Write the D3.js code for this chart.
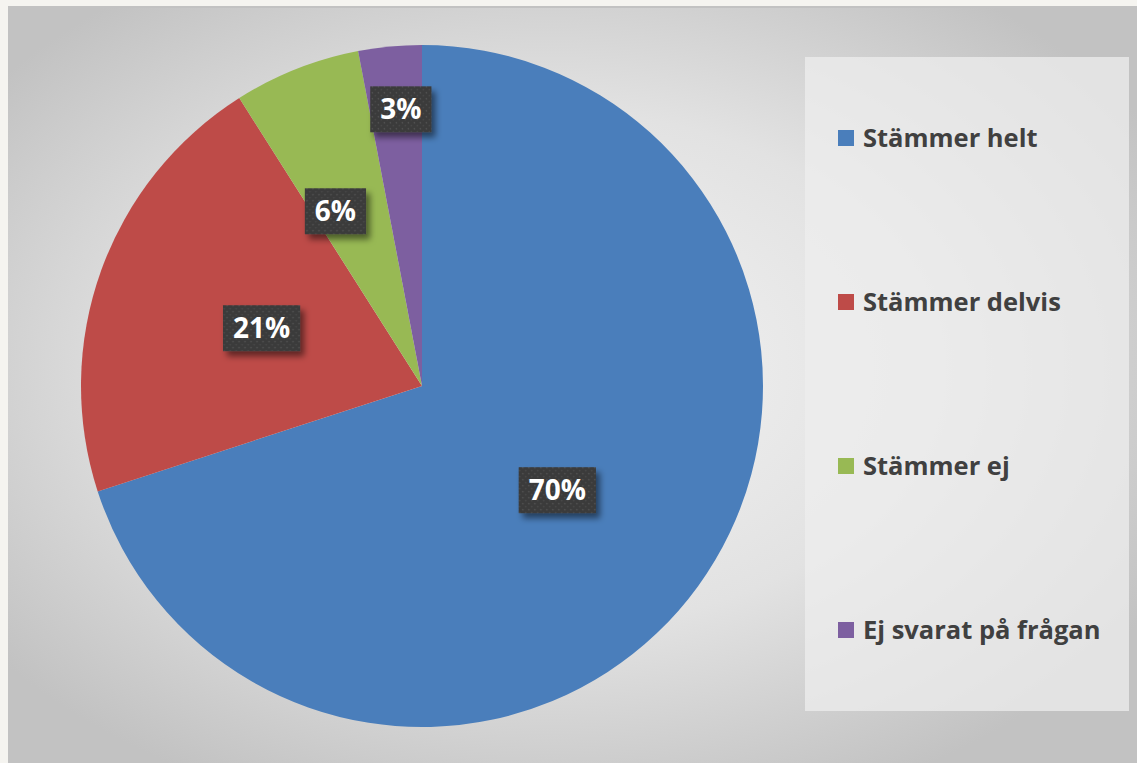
<!DOCTYPE html>
<html>
<head>
<meta charset="utf-8">
<script src="https://cdn.jsdelivr.net/npm/d3@7"></script>
<style>
  html, body { margin: 0; padding: 0; background: #f5f4f0; overflow: hidden; }
  svg { display: block; }
</style>
</head>
<body>
<svg id="chart"></svg>
<script>
const categories = ['Stämmer helt', 'Stämmer delvis', 'Stämmer ej', 'Ej svarat på frågan'];
const values = [70, 21, 6, 3];
const colors = ['#4a7ebb', '#be4b48', '#98b954', '#7d5fa0'];

const width = 1137, height = 763;
const svg = d3.select('#chart').attr('width', width).attr('height', height);
const defs = svg.append('defs');

// Background gradient
const bg = defs.append('radialGradient')
  .attr('id', 'bg').attr('cx', '48%').attr('cy', '48%').attr('r', '62%');
bg.append('stop').attr('offset', '0%').attr('stop-color', '#f4f4f4');
bg.append('stop').attr('offset', '55%').attr('stop-color', '#e2e2e2');
bg.append('stop').attr('offset', '100%').attr('stop-color', '#c2c2c2');

// Dotted pattern for the label boxes
const pat = defs.append('pattern')
  .attr('id', 'dots').attr('width', 6).attr('height', 6)
  .attr('patternUnits', 'userSpaceOnUse');
pat.append('rect').attr('width', 6).attr('height', 6).attr('fill', '#3a3a3a');
pat.append('circle').attr('cx', 1.5).attr('cy', 1.5).attr('r', 0.8).attr('fill', '#5a5a5a');
pat.append('circle').attr('cx', 4.5).attr('cy', 4.5).attr('r', 0.8).attr('fill', '#4e4e4e');

const shadow = defs.append('filter').attr('id', 'shadow')
  .attr('x', '-30%').attr('y', '-30%').attr('width', '170%').attr('height', '170%');
shadow.append('feDropShadow')
  .attr('dx', 4).attr('dy', 5).attr('stdDeviation', 3)
  .attr('flood-color', '#000').attr('flood-opacity', 0.5);

// Chart area
svg.append('rect')
  .attr('x', 8).attr('y', 6).attr('width', width - 8).attr('height', height - 6)
  .attr('fill', 'url(#bg)');
svg.append('line')
  .attr('x1', 8).attr('x2', width).attr('y1', 7).attr('y2', 7)
  .attr('stroke', '#c2c2c2').attr('stroke-width', 2);

// Pie
const cx = 422, cy = 386, radius = 341;
const pie = d3.pie().sort(null).value(d => d);
const arcs = pie(values);
const arc = d3.arc().innerRadius(0).outerRadius(radius);

const g = svg.append('g').attr('transform', `translate(${cx},${cy})`);
g.selectAll('path.slice')
  .data(arcs)
  .join('path')
  .attr('class', 'slice')
  .attr('d', arc)
  .attr('fill', (d, i) => colors[i]);

// Data labels (best-fit radius per slice, as a fraction of the radius, plus a nudge)
const labelFrac = [0.505, 0.5, 0.57, 0.815];
const labelShift = [[-4, 3], [0, 0], [-15, 6], [5, 0]];
const labels = g.selectAll('g.label')
  .data(arcs)
  .join('g')
  .attr('class', 'label')
  .attr('transform', (d, i) => {
    const r = radius * labelFrac[i];
    const [x, y] = d3.arc().innerRadius(r).outerRadius(r).centroid(d);
    return `translate(${x + labelShift[i][0]},${y + labelShift[i][1]})`;
  });

labels.append('text')
  .attr('text-anchor', 'middle')
  .attr('dy', '0.36em')
  .style('font-family', '"Open Sans", "DejaVu Sans", sans-serif')
  .style('font-weight', 700)
  .style('font-size', '28px')
  .attr('fill', '#ffffff')
  .text(d => Math.round(d.value) + '%');

labels.each(function() {
  const grp = d3.select(this);
  const bb = grp.select('text').node().getBBox();
  grp.insert('rect', 'text')
    .attr('x', bb.x - 10).attr('y', -23)
    .attr('width', bb.width + 20).attr('height', 46)
    .attr('fill', 'url(#dots)')
    .attr('filter', 'url(#shadow)');
});

// Legend
const legend = svg.append('g');
legend.append('rect')
  .attr('x', 805).attr('y', 57).attr('width', 324).attr('height', 654)
  .attr('fill', '#eeeeee').attr('fill-opacity', 0.75);

const legendY = d3.scalePoint().domain(categories).range([138, 630]);
const items = legend.selectAll('g.item')
  .data(categories)
  .join('g')
  .attr('class', 'item')
  .attr('transform', d => `translate(838,${legendY(d)})`);

items.append('rect')
  .attr('x', 0).attr('y', -8).attr('width', 16).attr('height', 16)
  .attr('fill', (d, i) => colors[i]);

items.append('text')
  .attr('x', 25).attr('dy', '0.36em')
  .style('font-family', '"Open Sans", "DejaVu Sans", sans-serif')
  .style('font-weight', 700)
  .style('font-size', '25.5px')
  .attr('fill', '#404040')
  .text(d => d);
</script>
</body>
</html>
